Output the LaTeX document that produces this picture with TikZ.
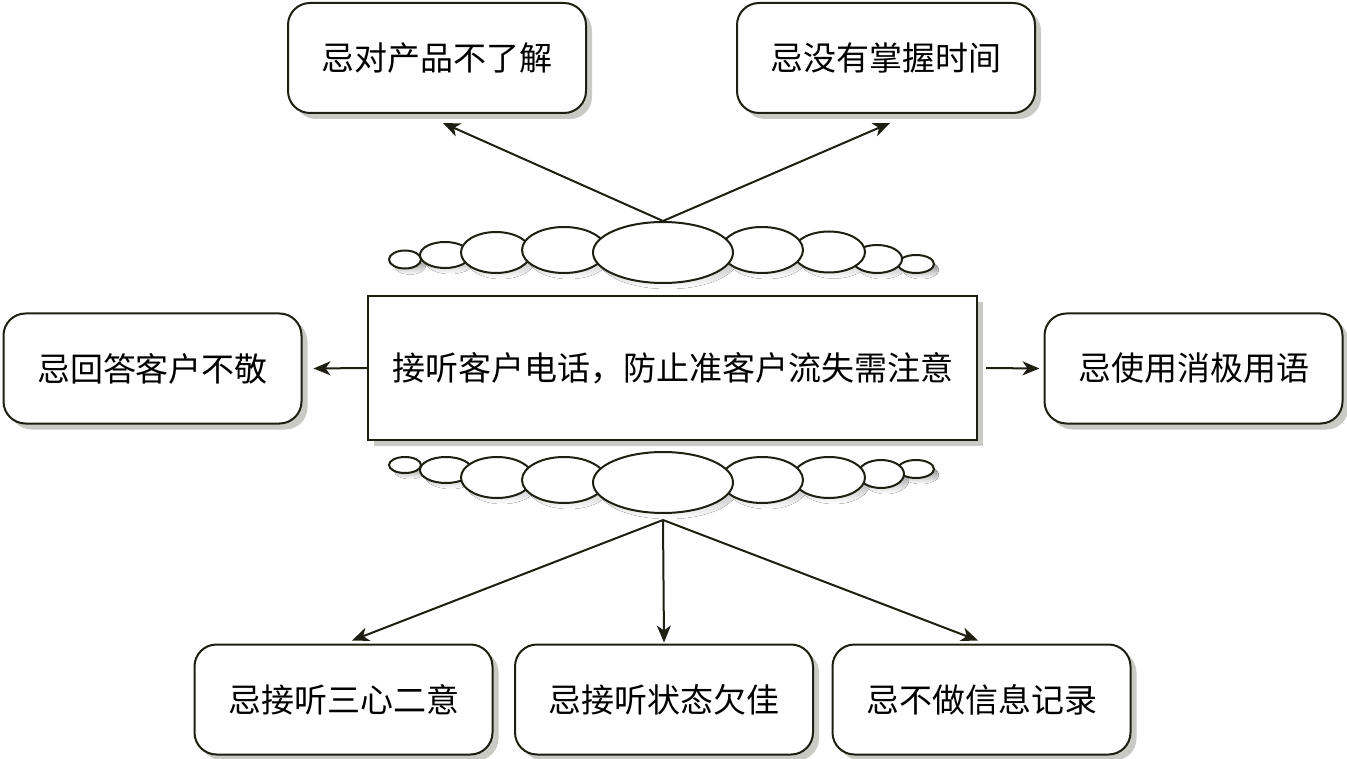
\documentclass[tikz,border=0pt]{standalone}
\usepackage{fontspec}
\newfontfamily\cjk{Noto Sans CJK SC}
\usetikzlibrary{arrows.meta,shadows,shapes.geometric}
\definecolor{ink}{HTML}{1E1E12}
\definecolor{shade}{HTML}{CACAC4}

\begin{document}
\begin{tikzpicture}[x=1pt,y=-1pt,
  tipbox/.style={draw=ink, line width=2pt, fill=white, rounded corners=22pt,
    minimum width=298pt, minimum height=110pt, inner sep=0pt,
    font=\cjk\fontsize{33}{40}\selectfont,
    drop shadow={shadow xshift=6pt, shadow yshift=-6pt, fill=shade, opacity=1}},
  mainbox/.style={tipbox, sharp corners, minimum width=609pt, minimum height=144pt},
  puff/.style={draw=ink, line width=2pt, fill=white},
  bigpuff/.style={ellipse, puff, inner sep=0pt, minimum width=140pt, minimum height=61pt},
  link/.style={draw=ink, line width=2pt, -{Stealth[length=17pt,width=14pt,inset=5pt]}}]
\useasboundingbox (0,0) rectangle (1347,759);

% shadows of the puffs
\foreach \cx/\cy/\rx/\ry in {405/259.5/16/9, 916/264/18/9, 445/255/25/13, 877/259/25/14,
    496/252.5/35/20.5, 829/252/36/20.5, 564/250/42/23, 762/250/41/23, 663/252.5/70/30.5,
    405/465/16/8, 916/469/18/9, 446/470/26/13, 881/474/23/14,
    497/477.5/36/20.5, 829/477.5/36/20.5, 564/480/42/23, 762/480/41/23, 663/482.5/70/30.5}
  \fill[shade] (\cx+5,\cy+6) ellipse [x radius=\rx, y radius=\ry];

% top puffs
\foreach \cx/\cy/\rx/\ry in {405/259.5/16/9, 916/264/18/9, 445/255/25/13, 877/259/25/14,
    496/252.5/35/20.5, 829/252/36/20.5, 564/250/42/23, 762/250/41/23}
  \draw[puff] (\cx,\cy) ellipse [x radius=\rx, y radius=\ry];
\node[bigpuff] (topcloud) at (663,252.5) {};

% bottom puffs
\foreach \cx/\cy/\rx/\ry in {405/465/16/8, 916/469/18/9, 446/470/26/13, 881/474/23/14,
    497/477.5/36/20.5, 829/477.5/36/20.5, 564/480/42/23, 762/480/41/23}
  \draw[puff] (\cx,\cy) ellipse [x radius=\rx, y radius=\ry];
\node[bigpuff] (botcloud) at (663,482.5) {};

\node[tipbox] (tl) at (437,58) {忌对产品不了解};
\node[tipbox] (tr) at (886,58) {忌没有掌握时间};
\node[tipbox] (ml) at (152.5,368.5) {忌回答客户不敬};
\node[tipbox] (mr) at (1193.5,368.5) {忌使用消极用语};
\node[mainbox] (hub) at (672.5,368) {接听客户电话，防止准客户流失需注意};
\node[tipbox] (bl) at (343.5,699.5) {忌接听三心二意};
\node[tipbox] (bm) at (664,699.5) {忌接听状态欠佳};
\node[tipbox] (br) at (981.5,699.5) {忌不做信息记录};

\coordinate (split) at ([yshift=-6pt]botcloud.south);
\draw[link] (topcloud.north) -- ([xshift=6pt,yshift=-9pt]tl.south);
\draw[link] (topcloud.north) -- ([xshift=4pt,yshift=-9pt]tr.south);
\draw[link] (hub.west) -- ([xshift=11pt]ml.east);
\draw[link] ([xshift=8pt]hub.east) -- ([xshift=-4pt]mr.west);
\draw[link] (split) -- ([xshift=8.5pt,yshift=3pt]bl.north);
\draw[link] (split) -- ([yshift=1pt]bm.north);
\draw[link] (split) -- ([xshift=-3.5pt,yshift=3pt]br.north);
\end{tikzpicture}
\end{document}
